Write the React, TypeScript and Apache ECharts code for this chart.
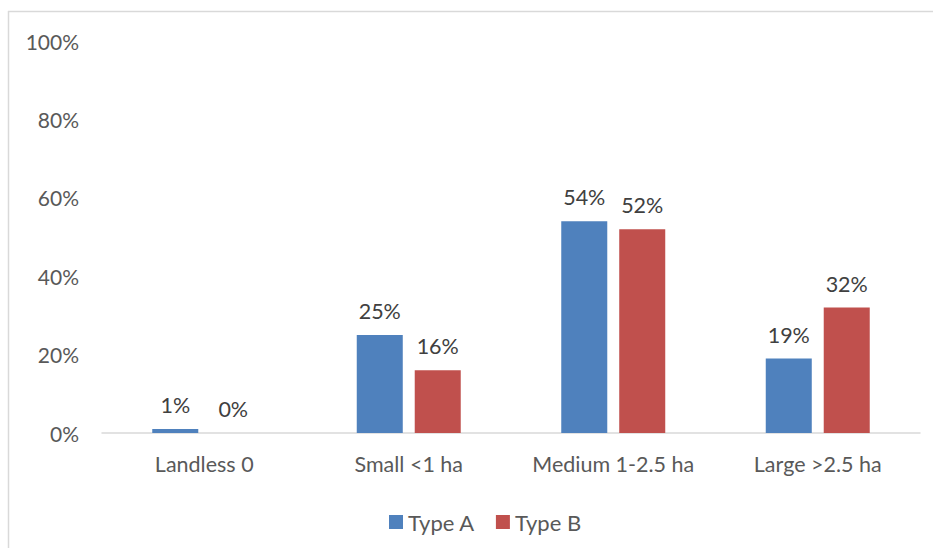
import React, { useEffect, useRef } from "react";
import * as echarts from "echarts";

const categories = ["Landless 0", "Small <1 ha", "Medium 1-2.5 ha", "Large >2.5 ha"];
const typeA = [1, 25, 54, 19];
const typeB = [0, 16, 52, 32];
const seriesNames = ["Type A", "Type B"];
const yTicks = { min: 0, max: 100, interval: 20 };

const FONT = "Lato, 'Open Sans', sans-serif";

export default function App() {
  const ref = useRef<HTMLDivElement>(null);

  useEffect(() => {
    if (!ref.current) return;
    const chart = echarts.init(ref.current, null, { renderer: "svg" });
    const labelStyle = {
      show: true,
      position: "top" as const,
      distance: 13,
      formatter: "{c}%",
      color: "#404040",
      fontSize: 21.5,
      fontFamily: FONT,
    };
    chart.setOption({
      animation: false,
      backgroundColor: "#ffffff",
      textStyle: { fontFamily: FONT },
      graphic: [
        { type: "line", shape: { x1: 8, y1: 11.5, x2: 933, y2: 11.5 }, style: { stroke: "#d9d9d9", lineWidth: 1.5 } },
        { type: "line", shape: { x1: 8.5, y1: 11, x2: 8.5, y2: 548 }, style: { stroke: "#d9d9d9", lineWidth: 1.5 } },
      ],
      grid: { left: 102, right: 13, top: 41, bottom: 115, containLabel: false },
      legend: {
        data: seriesNames,
        left: 389,
        top: 511,
        padding: 0,
        itemWidth: 14,
        itemHeight: 14,
        itemGap: 21,
        icon: "rect",
        textStyle: { color: "#595959", fontSize: 22, fontFamily: FONT },
      },
      xAxis: {
        type: "category",
        data: categories,
        axisLine: { show: true, lineStyle: { color: "#d9d9d9", width: 1.5 } },
        axisTick: { show: false },
        axisLabel: { color: "#595959", fontSize: 21.5, fontFamily: FONT, margin: 20, interval: 0 },
      },
      yAxis: {
        type: "value",
        min: yTicks.min,
        max: yTicks.max,
        interval: yTicks.interval,
        axisLine: { show: false },
        axisTick: { show: false },
        splitLine: { show: false },
        axisLabel: {
          formatter: "{value}%",
          color: "#595959",
          fontSize: 21,
          fontFamily: FONT,
          margin: 23,
          verticalAlign: "middle",
          padding: [0, 0, 4, 0],
        },
      },
      series: [
        {
          name: seriesNames[0],
          type: "bar",
          data: typeA,
          barWidth: "22.5%",
          barGap: "26%",
          itemStyle: { color: "#4F81BD" },
          label: labelStyle,
        },
        {
          name: seriesNames[1],
          type: "bar",
          data: typeB,
          barWidth: "22.5%",
          barGap: "26%",
          itemStyle: { color: "#C0504D" },
          label: labelStyle,
        },
      ],
    });
    return () => chart.dispose();
  }, []);

  return (
    <div
      ref={ref}
      style={{ position: "fixed", left: 0, top: 0, width: 933, height: 548 }}
    />
  );
}
